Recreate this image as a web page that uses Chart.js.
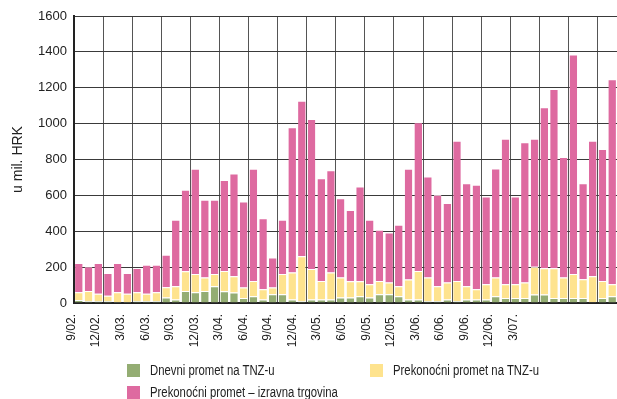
<!DOCTYPE html>
<html>
<head>
<meta charset="utf-8">
<script src="https://cdn.jsdelivr.net/npm/chart.js@4.4.0/dist/chart.umd.min.js"></script>
<style>
    body { margin: 0; background: #fff; }
    #wrap { position: relative; width: 617px; height: 399px; }
    #legend {
        position: absolute; left: 0; top: 0; width: 617px; height: 399px;
        pointer-events: none;
        font-family: 'Liberation Sans', sans-serif;
        font-size: 14px; color: #222;
    }
    .item { position: absolute; white-space: nowrap; line-height: 16px; }
    .box { display: inline-block; width: 13px; height: 13px; vertical-align: -2px; margin-right: 10px; }
    .txt { display: inline-block; transform: scaleX(0.81); transform-origin: 0 50%; }
</style>
</head>
<body>
<div id="wrap">
    <canvas id="chart" width="617" height="399"></canvas>
    <div id="legend"></div>
</div>
<script>
// monthly turnover, 9/2002 - 4/2007
const months = [
    '9/02.', '10/02.', '11/02.', '12/02.',
    '1/03.', '2/03.', '3/03.', '4/03.', '5/03.', '6/03.', '7/03.', '8/03.', '9/03.', '10/03.', '11/03.', '12/03.',
    '1/04.', '2/04.', '3/04.', '4/04.', '5/04.', '6/04.', '7/04.', '8/04.', '9/04.', '10/04.', '11/04.', '12/04.',
    '1/05.', '2/05.', '3/05.', '4/05.', '5/05.', '6/05.', '7/05.', '8/05.', '9/05.', '10/05.', '11/05.', '12/05.',
    '1/06.', '2/06.', '3/06.', '4/06.', '5/06.', '6/06.', '7/06.', '8/06.', '9/06.', '10/06.', '11/06.', '12/06.',
    '1/07.', '2/07.', '3/07.', '4/07.'
];

const tickLabels = ['9/02.', '12/02.', '3/03.', '6/03.', '9/03.', '12/03.', '3/04.', '6/04.', '9/04.', '12/04.',
    '3/05.', '6/05.', '9/05.', '12/05.', '3/06.', '6/06.', '9/06.', '12/06.', '3/07.'];

const dnevni = [17, 11, 11, 11, 5, 6, 11, 11, 11, 30,
    19, 67, 60, 67, 93, 65, 58, 28, 37, 19,
    49, 49, 19, 10, 19, 19, 19, 30, 30, 37,
    30, 49, 49, 37, 19, 19, 11, 11, 19, 11,
    19, 19, 19, 37, 28, 28, 28, 47, 47, 28,
    28, 28, 28, 4, 28, 37];

const prekonocniTnz = [43, 56, 41, 30, 55, 46, 49, 41, 49, 58,
    74, 110, 101, 75, 68, 114, 91, 58, 86, 58,
    37, 112, 151, 251, 170, 104, 151, 112, 91, 84,
    75, 74, 65, 56, 112, 160, 131, 82, 95, 112,
    74, 58, 86, 105, 77, 77, 86, 155, 147, 166,
    114, 133, 105, 145, 95, 68];

const izravna = [163, 137, 171, 126, 163, 115, 135, 161, 153, 181,
    371, 454, 587, 433, 414, 507, 573, 480, 625, 396,
    168, 303, 810, 867, 837, 573, 570, 442, 398, 528,
    359, 285, 279, 343, 617, 828, 563, 510, 443, 782,
    575, 582, 489, 608, 810, 489, 782, 713, 897, 999,
    672, 1225, 535, 756, 736, 1142];

const FONT = "'Liberation Sans', sans-serif";
const TEXT = '#222';

const datasets = [
    { label: 'Dnevni promet na TNZ-u', data: dnevni, backgroundColor: '#94ad73' },
    { label: 'Prekonoćni promet na TNZ-u', data: prekonocniTnz, backgroundColor: '#fee38e' },
    { label: 'Prekonoćni promet – izravna trgovina', data: izravna, backgroundColor: '#de6aa0' }
].map(d => Object.assign(d, {
    borderColor: '#fff',
    borderWidth: { top: 1 },
    borderSkipped: false,
    categoryPercentage: 1,
    barPercentage: 0.78
}));

const chart = new Chart(document.getElementById('chart'), {
    type: 'bar',
    data: { labels: months, datasets: datasets },
    options: {
        responsive: false,
        animation: false,
        layout: { padding: { top: 16, right: 0, bottom: 50, left: 0 } },
        plugins: {
            legend: { display: false },
            tooltip: { enabled: false }
        },
        scales: {
            x: {
                stacked: true,
                weight: 0,
                ticks: { display: false },
                grid: {
                    drawTicks: false,
                    color: ctx => ctx.index % 3 === 0 ? '#555' : 'rgba(0,0,0,0)',
                    lineWidth: 1
                },
                border: { color: '#222', width: 2 },
                afterFit: s => { s.height = 0; }
            },
            // separate axis for the quarter labels
            xt: {
                type: 'linear',
                position: 'bottom',
                weight: 1,
                min: 0.68,
                max: 21.63,
                grid: { display: false },
                border: { display: false },
                afterBuildTicks: axis => {
                    axis.ticks = tickLabels.map((t, i) => ({ value: i }));
                },
                ticks: {
                    autoSkip: false,
                    minRotation: 90,
                    maxRotation: 90,
                    padding: 3,
                    color: TEXT,
                    font: { family: FONT, size: 12 },
                    callback: (v, i) => tickLabels[i]
                },
                afterFit: s => { s.height = 46; }
            },
            y: {
                stacked: true,
                min: 0,
                max: 1600,
                ticks: {
                    stepSize: 200,
                    padding: 7,
                    color: TEXT,
                    font: { family: FONT, size: 13 },
                    callback: v => String(v)
                },
                grid: { drawTicks: false, color: '#3a3a3a', lineWidth: 1 },
                border: { color: '#222', width: 2 },
                title: {
                    display: true,
                    text: 'u mil. HRK',
                    color: TEXT,
                    font: { family: FONT, size: 14 },
                    padding: { top: 10, bottom: 0 }
                },
                afterFit: s => { s.width = 74; }
            }
        }
    }
});

// legend in two columns under the axis
const legendPos = [
    { left: 127, top: 362 },
    { left: 370, top: 362 },
    { left: 127, top: 384 }
];
const legend = document.getElementById('legend');
chart.data.datasets.forEach((ds, i) => {
    const item = document.createElement('div');
    item.className = 'item';
    item.style.left = legendPos[i].left + 'px';
    item.style.top = legendPos[i].top + 'px';
    item.innerHTML = '<span class="box" style="background:' + ds.backgroundColor + '"></span><span class="txt">' + ds.label + '</span>';
    legend.appendChild(item);
});
</script>
</body>
</html>
